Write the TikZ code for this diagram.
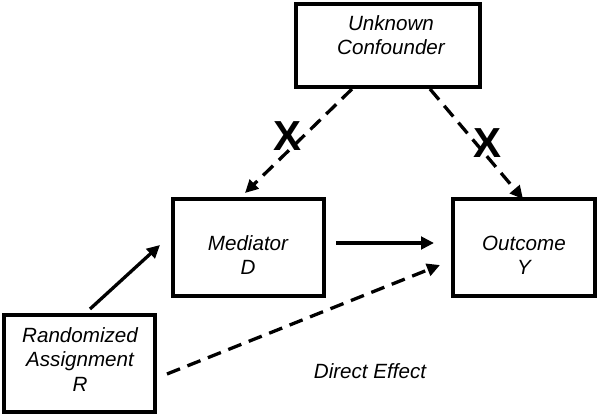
\documentclass[tikz,border=0pt]{standalone}
\usepackage{fontspec}
\setmainfont{Liberation Sans}
\usetikzlibrary{arrows.meta}
\begin{document}
\begin{tikzpicture}[x=1pt,y=-1pt,
  box/.style={draw=black,line width=3.8pt,minimum width=#1,inner sep=0pt},
  lbl/.style={font=\fontsize{20.6}{24}\selectfont\itshape,anchor=base,inner sep=0pt},
  xmark/.style={font=\fontsize{42}{42}\selectfont\bfseries,inner sep=0pt},
  arr/.style={line width=3.3pt,-{Triangle[length=13pt,width=12.5pt]}},
  darr/.style={arr,dash pattern=on 14pt off 8pt}]
\useasboundingbox (0,0) rectangle (600,418);
% boxes
\node[box=184pt,minimum height=83pt] (C) at (388,45.5) {};
\node[box=151pt,minimum height=97pt] (M) at (248.5,247.5) {};
\node[box=142pt,minimum height=97pt] (Y) at (524,247.5) {};
\node[box=151pt,minimum height=97pt] (R) at (79.5,363.5) {};
% texts
\node[lbl] (c1) at (391,30) {Unknown};
\node[lbl] (c2) at (391,54) {Confounder};
\node[lbl] (m1) at (248,250) {Mediator};
\node[lbl] (m2) at (248,274) {D};
\node[lbl] (y1) at (524,250) {Outcome};
\node[lbl] (y2) at (524,274) {Y};
\node[lbl] (r1) at (80,342) {Randomized};
\node[lbl] (r2) at (80,366) {Assignment};
\node[lbl] (r3) at (80,391) {R};
\node[lbl] (de) at (370,378) {Direct Effect};
% connector end points
\coordinate (rm0) at (90,309);
\coordinate (rm1) at (160,245);
\coordinate (my0) at (336,243);
\coordinate (my1) at (434,243);
\coordinate (ry0) at (167,374);
\coordinate (ry1) at (440,265);
\coordinate (cm0) at (352,89);
\coordinate (cm1) at (245,193);
\coordinate (cy0) at (430,89);
\coordinate (cy1) at (523,199);
% connectors
\draw[arr] (rm0) -- (rm1);
\draw[arr] (my0) -- (my1);
\draw[darr] (ry0) -- (ry1);
\draw[darr] (cm0) -- (cm1);
\draw[darr] (cy0) -- (cy1);
% X marks
\node[xmark] (x1) at (287.5,136) {X};
\node[xmark] (x2) at (487.5,143) {X};
\end{tikzpicture}
\end{document}
